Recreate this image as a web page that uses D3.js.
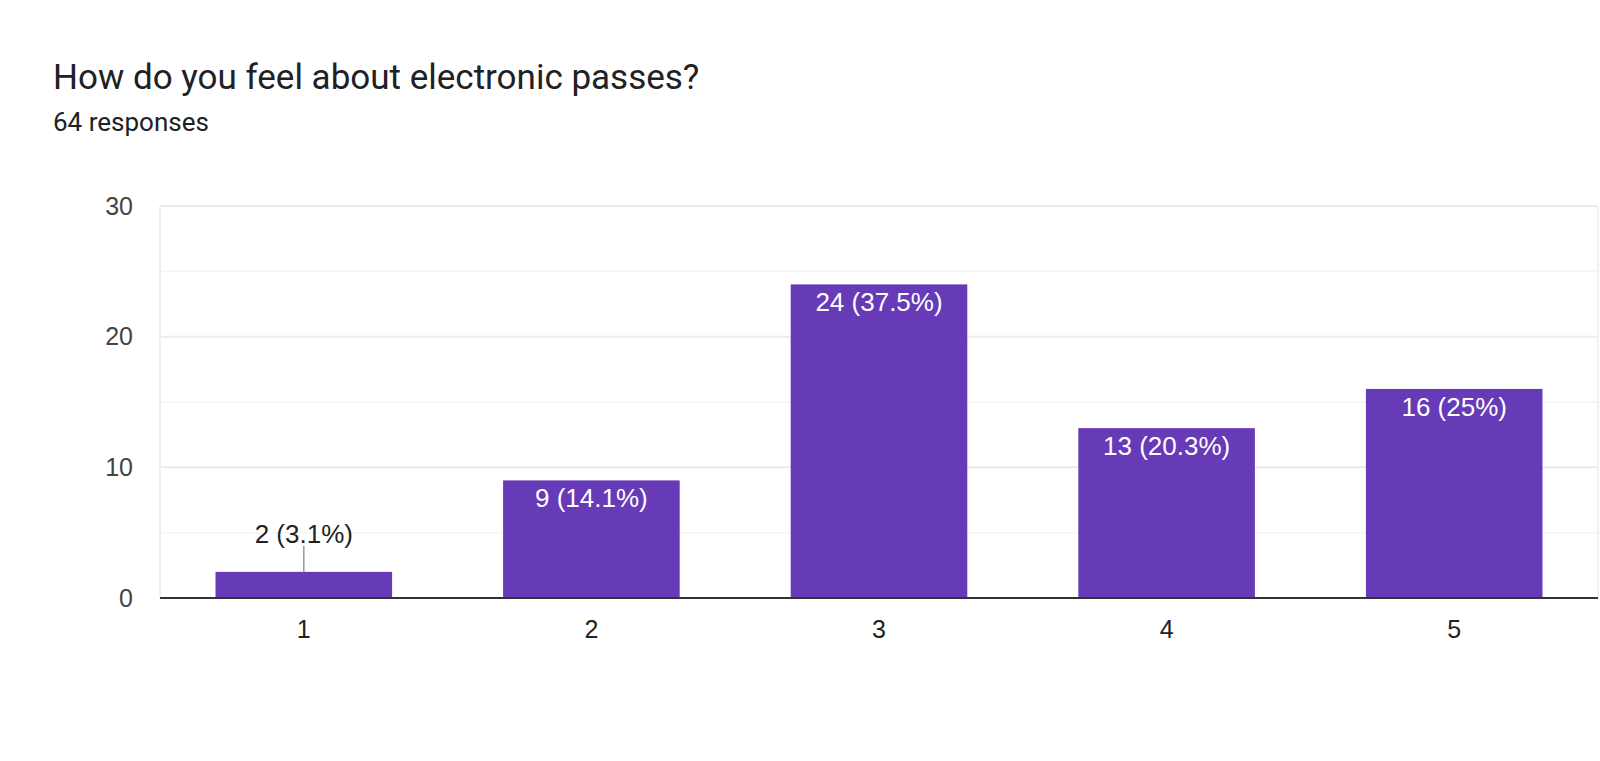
<!DOCTYPE html>
<html>
<head>
<meta charset="utf-8">
<script src="https://cdn.jsdelivr.net/npm/d3@7"></script>
<style>
  body { margin: 0; background: #fff; }
  svg text { font-family: Arial, "Liberation Sans", sans-serif; }
</style>
</head>
<body>
<div id="chart"></div>
<script>
var title = 'How do you feel about electronic passes?';
var subtitle = '64 responses';
var categories = ['1', '2', '3', '4', '5'];
var counts = [2, 9, 24, 13, 16];
var percents = ['3.1%', '14.1%', '37.5%', '20.3%', '25%'];
var yTicks = [0, 10, 20, 30];
var yGrid = [5, 15, 25];

var W = 1600, H = 761;
var margin = {top: 206, right: 2, bottom: 163, left: 160};
var width = W - margin.left - margin.right;
var height = H - margin.top - margin.bottom;

var svg = d3.select('#chart').append('svg').attr('width', W).attr('height', H);

svg.append('text').attr('x', 53).attr('y', 89)
  .style('font-family', 'Roboto').style('font-size', '35px').style('fill', '#202124')
  .text(title);
svg.append('text').attr('x', 53).attr('y', 131)
  .style('font-family', 'Roboto').style('font-size', '26px').style('fill', '#202124')
  .text(subtitle);

var g = svg.append('g').attr('transform', 'translate(' + margin.left + ',' + margin.top + ')');

var x = d3.scaleBand().domain(categories).range([0, width]).paddingInner(0.386).paddingOuter(0.193);
var y = d3.scaleLinear().domain([0, 30]).range([height, 0]);

// minor gridlines
g.selectAll('.minor').data(yGrid).enter().append('line')
  .attr('x1', 0).attr('x2', width)
  .attr('y1', function(d){ return y(d); }).attr('y2', function(d){ return y(d); })
  .style('stroke', '#f5f5f5').style('stroke-width', 1.5);

// major gridlines
g.selectAll('.major').data(yTicks.filter(function(d){ return d > 0; })).enter().append('line')
  .attr('x1', 0).attr('x2', width)
  .attr('y1', function(d){ return y(d); }).attr('y2', function(d){ return y(d); })
  .style('stroke', '#ebebeb').style('stroke-width', 2);

// left and right frame
[0, width].forEach(function(xx){
  g.append('line').attr('x1', xx).attr('x2', xx).attr('y1', 0).attr('y2', height)
    .style('stroke', '#f0f0f0').style('stroke-width', 2);
});

// y tick labels
g.selectAll('.ytick').data(yTicks).enter().append('text')
  .attr('x', -27).attr('y', function(d){ return y(d); }).attr('dy', '0.35em')
  .attr('text-anchor', 'end')
  .style('font-size', '25px').style('fill', '#444')
  .text(function(d){ return d; });

var data = categories.map(function(c, i){ return {cat: c, value: counts[i], pct: percents[i]}; });

var bars = g.selectAll('.bar').data(data).enter().append('g');

bars.append('rect')
  .attr('x', function(d){ return x(d.cat); })
  .attr('y', function(d){ return y(d.value); })
  .attr('width', x.bandwidth())
  .attr('height', function(d){ return height - y(d.value); })
  .style('fill', '#673ab7');

bars.each(function(d){
  var sel = d3.select(this);
  var cx = x(d.cat) + x.bandwidth() / 2;
  var label = d.value + ' (' + d.pct + ')';
  if (height - y(d.value) < 40) {
    sel.append('line').attr('x1', cx).attr('x2', cx)
      .attr('y1', y(d.value)).attr('y2', y(d.value) - 26)
      .style('stroke', '#999').style('stroke-width', 1.5);
    sel.append('text').attr('x', cx).attr('y', y(d.value) - 29)
      .attr('text-anchor', 'middle').style('font-size', '26px').style('fill', '#222')
      .text(label);
  } else {
    sel.append('text').attr('x', cx).attr('y', y(d.value) + 27)
      .attr('text-anchor', 'middle').style('font-size', '26px').style('fill', '#fff')
      .text(label);
  }
});

// baseline
g.append('line').attr('x1', 0).attr('x2', width).attr('y1', height).attr('y2', height)
  .style('stroke', '#333').style('stroke-width', 2);

// x tick labels
g.selectAll('.xtick').data(categories).enter().append('text')
  .attr('x', function(d){ return x(d) + x.bandwidth() / 2; })
  .attr('y', height + 40)
  .attr('text-anchor', 'middle')
  .style('font-size', '25px').style('fill', '#222')
  .text(function(d){ return d; });
</script>
</body>
</html>
